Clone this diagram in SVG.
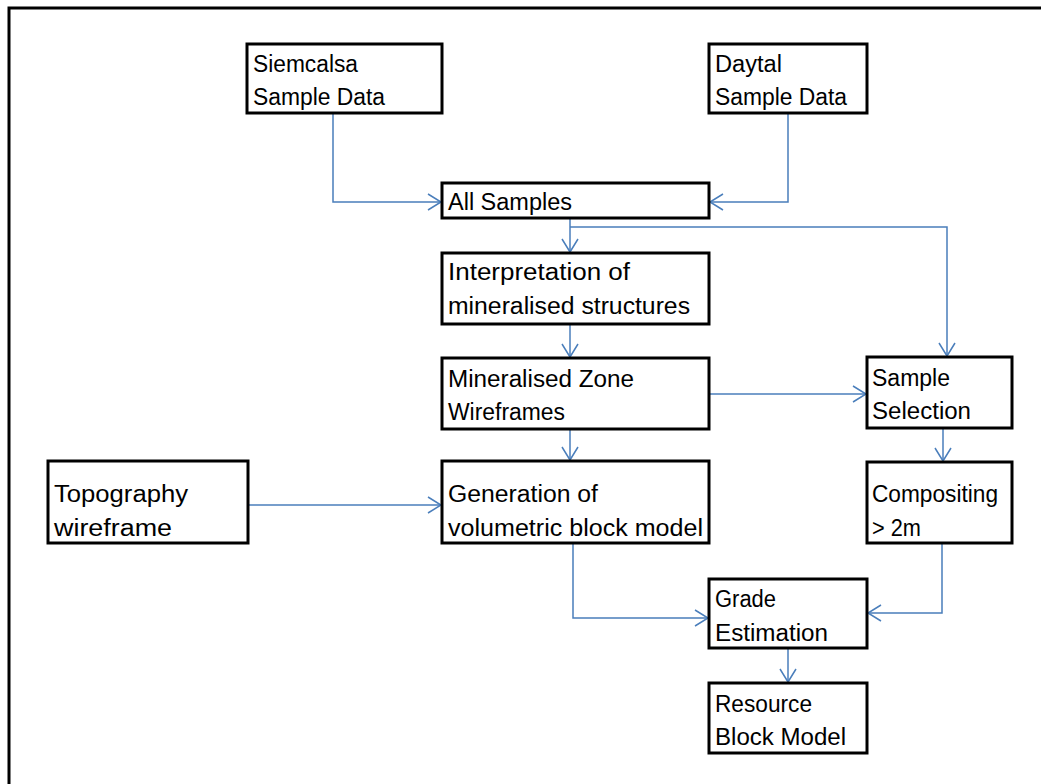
<svg xmlns="http://www.w3.org/2000/svg" width="1041" height="784" viewBox="0 0 1041 784">
<defs>
<marker id="arr" markerWidth="16" markerHeight="18" refX="14" refY="9" orient="auto" markerUnits="userSpaceOnUse">
<path d="M1,1 L14,9 L1,17" fill="none" stroke="#4A7EBB" stroke-width="1.5"/>
</marker>
</defs>
<style>
.box{fill:#fff;stroke:#000;stroke-width:3}
.t{font-family:"Liberation Sans",Arial,sans-serif;font-size:23px;fill:#000}
.c{fill:none;stroke:#4A7EBB;stroke-width:1.5}
</style>
<rect x="0" y="0" width="1041" height="784" fill="#fff"/>
<rect x="9" y="8" width="1100" height="850" fill="none" stroke="#000" stroke-width="3"/>
<g id="connectors">
<path class="c" d="M333,113 V202 H441" marker-end="url(#arr)"/>
<path class="c" d="M788,113 V202 H710" marker-end="url(#arr)"/>
<path class="c" d="M570,218 V252" marker-end="url(#arr)"/>
<path class="c" d="M570,227 H947 V356" marker-end="url(#arr)"/>
<path class="c" d="M570,324 V357" marker-end="url(#arr)"/>
<path class="c" d="M709,394 H866" marker-end="url(#arr)"/>
<path class="c" d="M570,429 V460" marker-end="url(#arr)"/>
<path class="c" d="M943,428 V461" marker-end="url(#arr)"/>
<path class="c" d="M249,505 H441" marker-end="url(#arr)"/>
<path class="c" d="M573,543 V618 H708" marker-end="url(#arr)"/>
<path class="c" d="M942,543 V613 H868" marker-end="url(#arr)"/>
<path class="c" d="M788,648 V682" marker-end="url(#arr)"/>
</g>
<g id="siemcalsa"><rect class="box" x="247" y="44" width="195" height="69"/><text class="t" x="253" y="72" textLength="105" lengthAdjust="spacingAndGlyphs">Siemcalsa</text><text class="t" x="253" y="105" textLength="132" lengthAdjust="spacingAndGlyphs">Sample Data</text></g>
<g id="daytal"><rect class="box" x="709" y="44" width="158" height="69"/><text class="t" x="715" y="72" textLength="67" lengthAdjust="spacingAndGlyphs">Daytal</text><text class="t" x="715" y="105" textLength="132" lengthAdjust="spacingAndGlyphs">Sample Data</text></g>
<g id="allsamples"><rect class="box" x="442" y="183" width="267" height="35"/><text class="t" x="448" y="210" textLength="124" lengthAdjust="spacingAndGlyphs">All Samples</text></g>
<g id="interpretation"><rect class="box" x="442" y="253" width="267" height="71"/><text class="t" x="448" y="280" textLength="182" lengthAdjust="spacingAndGlyphs">Interpretation of</text><text class="t" x="448" y="314" textLength="242" lengthAdjust="spacingAndGlyphs">mineralised structures</text></g>
<g id="mzw"><rect class="box" x="442" y="358" width="267" height="71"/><text class="t" x="448" y="387" textLength="186" lengthAdjust="spacingAndGlyphs">Mineralised Zone</text><text class="t" x="448" y="420" textLength="117" lengthAdjust="spacingAndGlyphs">Wireframes</text></g>
<g id="sampleselection"><rect class="box" x="867" y="357" width="145" height="71"/><text class="t" x="872" y="386" textLength="78" lengthAdjust="spacingAndGlyphs">Sample</text><text class="t" x="872" y="419" textLength="99" lengthAdjust="spacingAndGlyphs">Selection</text></g>
<g id="topography"><rect class="box" x="48" y="461" width="200" height="82"/><text class="t" x="54" y="502" textLength="134" lengthAdjust="spacingAndGlyphs">Topography</text><text class="t" x="54" y="536" textLength="118" lengthAdjust="spacingAndGlyphs">wireframe</text></g>
<g id="generation"><rect class="box" x="442" y="461" width="267" height="82"/><text class="t" x="448" y="502" textLength="150" lengthAdjust="spacingAndGlyphs">Generation of</text><text class="t" x="448" y="536" textLength="255" lengthAdjust="spacingAndGlyphs">volumetric block model</text></g>
<g id="compositing"><rect class="box" x="867" y="462" width="145" height="81"/><text class="t" x="872" y="502" textLength="126" lengthAdjust="spacingAndGlyphs">Compositing</text><text class="t" x="872" y="536" textLength="49" lengthAdjust="spacingAndGlyphs">&gt; 2m</text></g>
<g id="grade"><rect class="box" x="709" y="579" width="158" height="69"/><text class="t" x="715" y="607" textLength="61" lengthAdjust="spacingAndGlyphs">Grade</text><text class="t" x="715" y="641" textLength="113" lengthAdjust="spacingAndGlyphs">Estimation</text></g>
<g id="resource"><rect class="box" x="709" y="683" width="158" height="70"/><text class="t" x="715" y="712" textLength="97" lengthAdjust="spacingAndGlyphs">Resource</text><text class="t" x="715" y="745" textLength="131" lengthAdjust="spacingAndGlyphs">Block Model</text></g>
</svg>
